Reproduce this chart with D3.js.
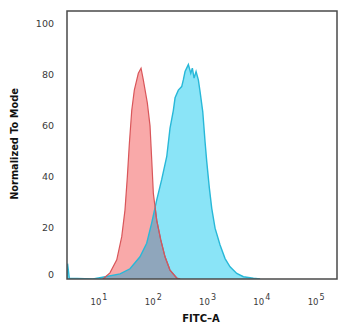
<!DOCTYPE html>
<html>
<head>
<meta charset="utf-8">
<script src="https://cdn.jsdelivr.net/npm/d3@7"></script>
<style>
  html, body { margin: 0; padding: 0; background: #fff; }
  svg { display: block; }
</style>
</head>
<body>
<script>
// ---- Data ----
const xTicks = [10, 100, 1000, 10000, 100000];
const xTickExps = ["1", "2", "3", "4", "5"];
const yTicks = [0, 20, 40, 60, 80, 100];

// Isotype control (red): FITC intensity and % of mode
const redX = [10.4, 14.0, 18.7, 23.1, 26.5, 29.3, 31.9, 35.3, 39.4, 46.7, 52.4, 57.7, 68.4, 76.7, 82.4, 88.3, 102, 121, 145, 179, 238, 274];
const redY = [0, 2.4, 7.5, 16.6, 27, 40, 53, 66, 74, 80.6, 82.6, 78, 69, 60, 46.7, 33.6, 23, 15.3, 8.7, 3.5, 0.4, 0];

// Antibody (cyan)
const blueX = [2.27, 2.32, 2.5, 6.8, 12.2, 21.5, 32.8, 50.1, 66.6, 82.4, 102, 126, 156, 179, 206, 222, 255, 294, 315, 339, 390, 432, 462, 497, 541, 596, 640, 718, 792, 851, 951, 1052, 1211, 1497, 1851, 2288, 3041, 4028, 6152, 8175];
const blueY = [0, 6, 0.3, 0, 1, 2, 4, 8.7, 14, 22, 31, 39, 48, 59, 66, 71, 74, 75.4, 78, 81.3, 84, 80.6, 82.6, 78.7, 81.3, 78, 73.5, 65.6, 53.8, 46, 35.6, 27.7, 19.9, 13.3, 8, 4.8, 2.2, 0.9, 0.3, 0];

const xTitle = "FITC\u2013A";
const yTitle = "Normalized To Mode";

// ---- Layout ----
const W = 350, H = 329;
const mLeft = 67, mRight = 337, mTop = 11, mBottom = 279;

const svg = d3.select("body").append("svg").attr("width", W).attr("height", H);

const x = d3.scaleLog().domain([Math.pow(10, 0.355), Math.pow(10, 5.33)]).range([mLeft, mRight]);
const y = d3.scaleLinear().domain([0, 105]).range([mBottom, mTop]);

const red = redX.map((v, i) => ({x: v, y: redY[i]}));
const blue = blueX.map((v, i) => ({x: v, y: blueY[i]}));

const area = d3.area().x(d => x(d.x)).y0(y(0)).y1(d => y(d.y));
const line = d3.line().x(d => x(d.x)).y(d => y(d.y));

const defs = svg.append("defs");
defs.append("clipPath").attr("id", "plotclip").append("rect")
  .attr("x", mLeft).attr("y", mTop).attr("width", mRight - mLeft).attr("height", mBottom - mTop);
defs.append("clipPath").attr("id", "blueclip").append("path").datum(blue).attr("d", area);

const g = svg.append("g").attr("clip-path", "url(#plotclip)");

// blue filled histogram
g.append("path").datum(blue).attr("d", area).attr("fill", "#8ae4f7");
// red filled histogram
g.append("path").datum(red).attr("d", area).attr("fill", "#f9a9a9");
// overlap region
const ov = g.append("g").attr("clip-path", "url(#blueclip)");
ov.append("path").datum(red).attr("d", area).attr("fill", "#8fa6bc");

// outlines
g.append("path").datum(blue).attr("d", line).attr("fill", "none").attr("stroke", "#28b8d8").attr("stroke-width", 1.4);
g.append("path").datum(red).attr("d", line).attr("fill", "none").attr("stroke", "#d9565a").attr("stroke-width", 1.2);
ov.append("path").datum(red).attr("d", line).attr("fill", "none").attr("stroke", "#7d6f8e").attr("stroke-width", 1.2);

// Frame
svg.append("rect").attr("x", mLeft).attr("y", mTop).attr("width", mRight - mLeft).attr("height", mBottom - mTop)
  .attr("fill", "none").attr("stroke", "#4a4a4a").attr("stroke-width", 1.5);

// Y tick labels
svg.append("g").selectAll("text").data(yTicks).join("text")
  .attr("x", 54)
  .attr("y", d => d === 0 ? y(d) - 4.5 : y(d))
  .attr("dy", "0.35em")
  .attr("text-anchor", "end")
  .attr("font-family", "DejaVu Sans, sans-serif")
  .attr("font-size", 9.5)
  .attr("fill", "#3a3a3a")
  .text(d => d);

// X tick labels (10 with superscript exponent)
const xl = svg.append("g").selectAll("text").data(xTicks).join("text")
  .attr("x", d => x(d) - 3)
  .attr("y", 305)
  .attr("text-anchor", "middle")
  .attr("font-family", "DejaVu Sans, sans-serif")
  .attr("font-size", 8.5)
  .attr("fill", "#3a3a3a");
xl.append("tspan").text("10");
xl.append("tspan").attr("dy", -5.5).attr("dx", 1).attr("font-size", 8).text((d, i) => xTickExps[i]);

// Axis titles
svg.append("text")
  .attr("x", 201).attr("y", 322)
  .attr("text-anchor", "middle")
  .attr("font-family", "DejaVu Sans, sans-serif")
  .attr("font-weight", "bold")
  .attr("font-size", 10)
  .attr("fill", "#111")
  .text(xTitle);

svg.append("text")
  .attr("transform", "translate(17.5,144) rotate(-90)")
  .attr("text-anchor", "middle")
  .attr("font-family", "DejaVu Sans, sans-serif")
  .attr("font-weight", "bold")
  .attr("font-size", 9.8)
  .attr("fill", "#111")
  .text(yTitle);
</script>
</body>
</html>
